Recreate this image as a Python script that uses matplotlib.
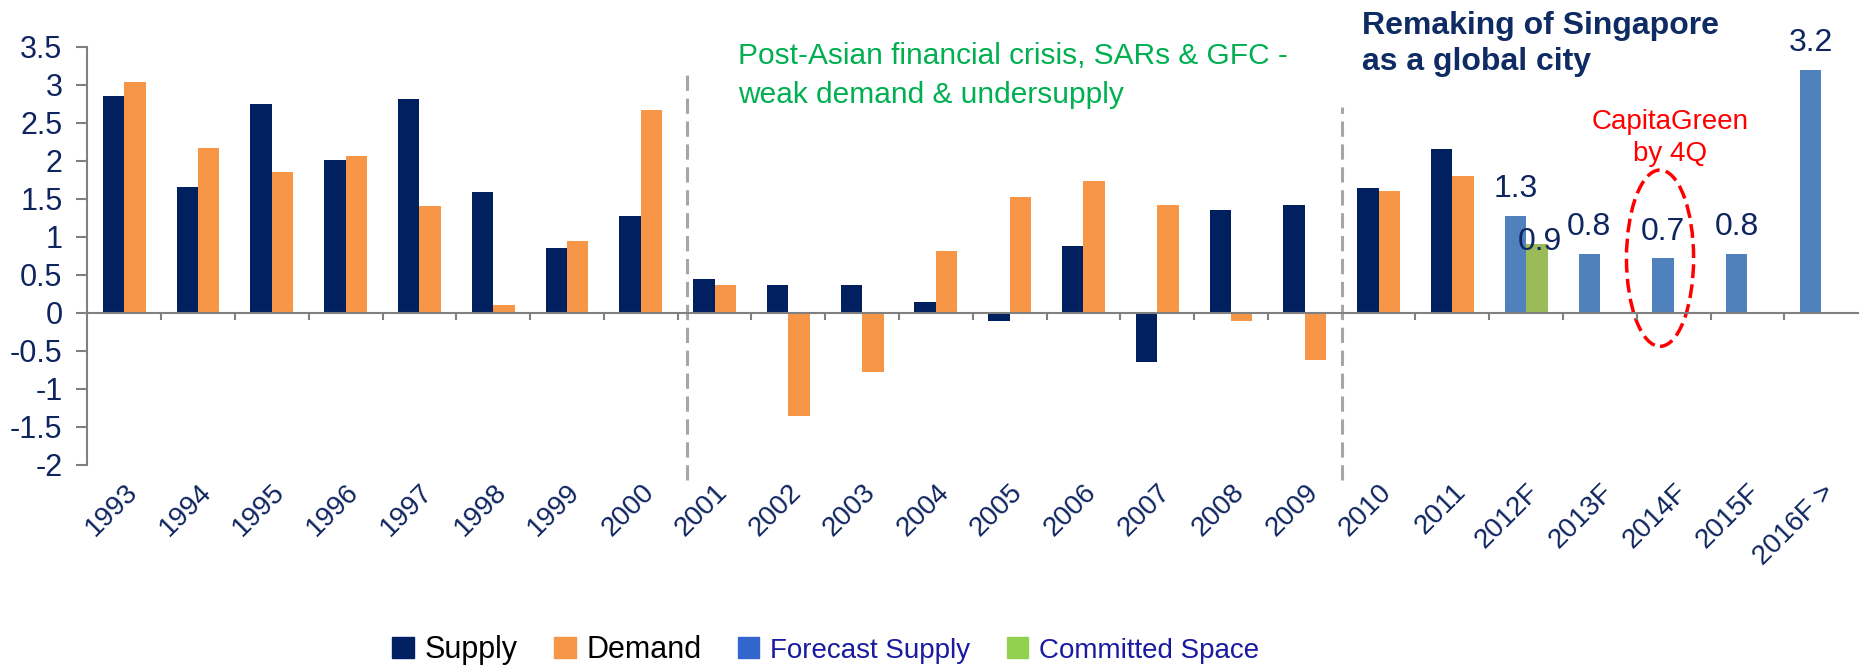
import matplotlib
matplotlib.use('Agg')
import matplotlib.pyplot as plt
from matplotlib.patches import Patch, Ellipse
import numpy as np

plt.rcParams['font.family'] = ['Liberation Sans', 'DejaVu Sans']

# data
years = ['1993', '1994', '1995', '1996', '1997', '1998', '1999', '2000',
         '2001', '2002', '2003', '2004', '2005', '2006', '2007', '2008',
         '2009', '2010', '2011', '2012F', '2013F', '2014F', '2015F', '2016F >']
supply = [2.85, 1.66, 2.75, 2.01, 2.82, 1.59, 0.85, 1.27, 0.45, 0.37,
          0.37, 0.14, -0.10, 0.875, -0.65, 1.35, 1.42, 1.64, 2.16]
demand = [3.04, 2.17, 1.85, 2.06, 1.40, 0.11, 0.95, 2.67, 0.37, -1.36,
          -0.78, 0.82, 1.53, 1.74, 1.42, -0.10, -0.62, 1.61, 1.80]
forecast = [1.28, 0.78, 0.72, 0.78, 3.2]
forecast_labels = ['1.3', '0.8', '0.7', '0.8', '3.2']
committed = [0.90]
committed_labels = ['0.9']

NAVY = '#002060'
ORANGE = '#F79646'
FC_BLUE = '#4F81BD'
GREEN = '#9BBB59'
TXT = '#0F2560'
GRAY = '#808080'

fig = plt.figure(figsize=(18.6, 6.69), dpi=100)
ax = fig.add_axes([0.047, 0.305, 0.952, 0.625])

w = 0.29
x_hist = np.arange(len(supply))
x_fc = np.arange(len(supply), len(years))
x_cm = x_fc[:len(committed)]

ax.bar(x_hist - w / 2, supply, w, color=NAVY)
ax.bar(x_hist + w / 2, demand, w, color=ORANGE)
ax.bar(x_fc - w / 2, forecast, w, color=FC_BLUE)
ax.bar(x_cm + w / 2, committed, w, color=GREEN)

# value labels on forecast bars
for xi, v, lab in zip(x_fc - w / 2, forecast, forecast_labels):
    ax.annotate(lab, (xi, v), xytext=(0, 19), textcoords='offset points',
                ha='center', va='center', fontsize=23, color=TXT)
for xi, v, lab in zip(x_cm + w / 2, committed, committed_labels):
    ax.annotate(lab, (xi, v), xytext=(2, 2), textcoords='offset points',
                ha='center', va='center', fontsize=23, color=TXT)

ax.set_xlim(-0.5, len(years) - 0.5)
ax.set_ylim(-2, 3.5)
yt = np.arange(-2, 3.51, 0.5)
ax.set_yticks(yt, labels=[f'{v:g}' for v in yt])
ax.tick_params(axis='y', length=8, width=1.5, color=GRAY, pad=10,
               labelsize=22, labelcolor=TXT)

for s in ['top', 'right']:
    ax.spines[s].set_visible(False)
ax.spines['left'].set_color(GRAY)
ax.spines['left'].set_linewidth(1.5)
ax.spines['bottom'].set_position(('data', 0))
ax.spines['bottom'].set_color(GRAY)
ax.spines['bottom'].set_linewidth(1.5)
ax.set_xticks(np.arange(0.5, len(years) - 0.5, 1.0))
ax.tick_params(axis='x', length=5, width=1.5, color=GRAY, labelbottom=False)

# category labels along the bottom of the plot
sec = ax.secondary_xaxis(0.0)
sec.set_xticks(np.arange(len(years)), labels=years, rotation=45,
               ha='right', rotation_mode='anchor')
sec.tick_params(length=0, pad=10, labelsize=20, labelcolor=TXT)
sec.spines['bottom'].set_visible(False)

# period separators
ax.axvline(7.63, ymin=-0.036, ymax=0.943, color='#A6A6A6', lw=2.2,
           linestyle=(0, (5, 2.5)), clip_on=False)
ax.axvline(16.5, ymin=-0.036, ymax=0.856, color='#A6A6A6', lw=2.2,
           linestyle=(0, (5, 2.5)), clip_on=False)

# CapitaGreen highlight
i14 = years.index('2014F')
ax.add_patch(Ellipse((i14 - w / 2 - 0.04, forecast[2]), 0.91, 2.32, fill=False,
                     edgecolor='red', lw=2.5, linestyle=(0, (4, 1.8)),
                     clip_on=False))

fig.text(0.397, 0.916, 'Post-Asian financial crisis, SARs & GFC -',
         fontsize=21.5, color='#00B050', va='center')
fig.text(0.397, 0.858, 'weak demand & undersupply',
         fontsize=21.5, color='#00B050', va='center')
fig.text(0.732, 0.961, 'Remaking of Singapore', fontsize=23,
         fontweight='bold', color='#0E2B63', va='center')
fig.text(0.732, 0.907, 'as a global city', fontsize=23,
         fontweight='bold', color='#0E2B63', va='center')
fig.text(0.898, 0.818, 'CapitaGreen', fontsize=20, color='red',
         ha='center', va='center')
fig.text(0.898, 0.770, 'by 4Q', fontsize=20, color='red',
         ha='center', va='center')

handles = [Patch(color=NAVY), Patch(color=ORANGE),
           Patch(color='#3366CC'), Patch(color='#92D050')]
leg = fig.legend(handles, ['Supply', 'Demand', 'Forecast Supply', 'Committed Space'],
                 loc='center', bbox_to_anchor=(0.444, 0.028), ncol=4,
                 frameon=False, fontsize=22, handlelength=0.7,
                 handleheight=0.7, handletextpad=0.35, columnspacing=1.2)
txts = leg.get_texts()
for t in txts[2:]:
    t.set_color('#1A1AA0')
    t.set_fontsize(20)

fig.savefig('out.png', dpi=100)
